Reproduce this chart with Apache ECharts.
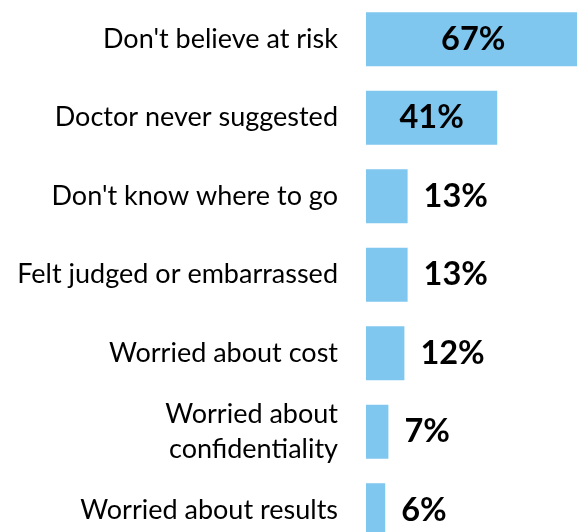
<!DOCTYPE html>
<html><head><meta charset="utf-8">
<script src="https://cdn.jsdelivr.net/npm/echarts@6/dist/echarts.min.js"></script>
<style>html,body{margin:0;padding:0;background:#fff}#c{width:577px;height:532px}</style>
</head><body><div id="c"></div>
<script>
const categories = ["Don't believe at risk","Doctor never suggested","Don't know where to go","Felt judged or embarrassed","Worried about cost","Worried about\nconfidentiality","Worried about results"];
const values = [67,41,13,13,12,7,6];
const insideThreshold = 30;

const chart = echarts.init(document.getElementById('c'), null, {renderer:'canvas'});
chart.setOption({
  animation:false,
  grid:{left:366, top:0, width:320, height:549.5, containLabel:false, outerBoundsMode:'none'},
  xAxis:{type:'value', min:0, max:100, show:false},
  yAxis:{type:'category', data:categories, inverse:true,
    axisLine:{show:false}, axisTick:{show:false}, splitLine:{show:false},
    axisLabel:{fontFamily:'Lato', fontSize:27, color:'#000', margin:28, lineHeight:35, align:'right'}},
  series:[{type:'bar', barWidth:54,
    data: values.map(v=>({value:v, label: v>insideThreshold ? {position:'inside'} : {position:'right', distance:16}})),
    itemStyle:{color:'#7FC7EE'},
    label:{show:true, formatter:'{c}%', fontFamily:'Lato', fontWeight:'bold', fontSize:32.5, color:'#000'}
  }]
});
</script></body></html>
